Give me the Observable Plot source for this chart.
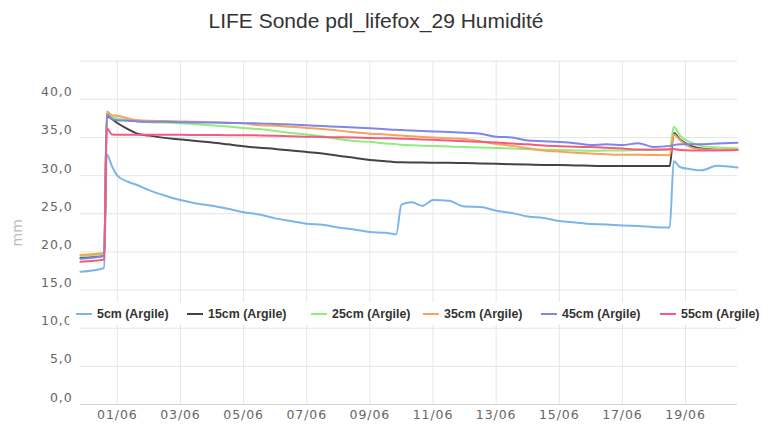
<!DOCTYPE html>
<html>
<head>
<meta charset="utf-8">
<script src="https://cdn.jsdelivr.net/npm/d3@7"></script>
<script src="https://cdn.jsdelivr.net/npm/@observablehq/plot@0.6"></script>
<style>
  body { margin: 0; background: #fff; }
  #wrap { position: relative; width: 768px; height: 425px; overflow: hidden; background: #fff; }
  #wrap svg { position: absolute; left: 0; top: 0; }
  #title { position: absolute; left: 0; width: 752px; top: 9px; line-height: 21px; text-align: center;
           font: 21px "Liberation Sans", Arial, sans-serif; color: #333; white-space: nowrap; }
  #legend { position: absolute; left: 69px; top: 302px; width: 699px; height: 22px; background: #fff; }
  .item { position: absolute; top: 5px; height: 16px; line-height: 16px; white-space: nowrap;
          font: bold 12.4px "Liberation Sans", Arial, sans-serif; color: #333; }
  .item i { display: inline-block; width: 16px; height: 2px; vertical-align: middle; margin-right: 5px; position: relative; top: -1px; }
  svg [aria-label="y-axis tick label"], svg [aria-label="x-axis tick label"] {
    font-family: "DejaVu Sans", sans-serif; font-size: 12.5px; letter-spacing: 0.9px; fill: #666; }
  svg [aria-label="y-axis label"] { font-family: "DejaVu Sans", sans-serif; font-size: 14px; fill: #bbb; }
</style>
</head>
<body>
<div id="wrap">
  <div id="title"></div>
  <div id="legend"></div>
</div>
<script>
const titleText = "LIFE Sonde pdl_lifefox_29 Humidité";
const yLabel = "mm";
const series = ["5cm (Argile)", "15cm (Argile)", "25cm (Argile)", "35cm (Argile)", "45cm (Argile)", "55cm (Argile)"];
const colors = ["#7cb5ec", "#434348", "#90ed7d", "#f7a35c", "#8085e9", "#f15c80"];

const times = [
  "2021-05-30T20:00", "2021-05-31T14:00", "2021-05-31T16:00", "2021-05-31T20:00",
  "2021-06-01T00:00", "2021-06-01T08:00", "2021-06-01T16:00", "2021-06-02T00:00", "2021-06-02T12:00",
  "2021-06-03T00:00", "2021-06-03T12:00", "2021-06-04T00:00", "2021-06-04T12:00",
  "2021-06-05T00:00", "2021-06-05T12:00", "2021-06-06T00:00", "2021-06-06T12:00",
  "2021-06-07T00:00", "2021-06-07T12:00", "2021-06-08T00:00", "2021-06-08T12:00",
  "2021-06-09T00:00", "2021-06-09T12:00", "2021-06-09T20:00", "2021-06-10T00:00",
  "2021-06-10T08:00", "2021-06-10T16:00", "2021-06-11T00:00", "2021-06-11T12:00",
  "2021-06-12T00:00", "2021-06-12T12:00", "2021-06-13T00:00", "2021-06-13T12:00",
  "2021-06-14T00:00", "2021-06-14T12:00", "2021-06-15T00:00", "2021-06-15T12:00",
  "2021-06-16T00:00", "2021-06-16T12:00", "2021-06-17T00:00", "2021-06-17T12:00",
  "2021-06-18T00:00", "2021-06-18T12:00", "2021-06-18T15:00", "2021-06-18T20:00",
  "2021-06-19T04:00", "2021-06-19T12:00", "2021-06-20T00:00", "2021-06-20T15:30"
];

const v5 = [17.4, 17.9, 32.8, 31.2, 30.0, 29.2, 28.7, 28.1, 27.4, 26.8, 26.35, 26.05, 25.65, 25.2, 24.9, 24.4, 24.05,
  23.7, 23.55, 23.2, 22.95, 22.6, 22.5, 22.3, 26.2, 26.5, 26.05, 26.8, 26.7, 25.95, 25.9, 25.4, 25.1, 24.65, 24.45,
  24.05, 23.85, 23.65, 23.6, 23.45, 23.4, 23.25, 23.2, 31.9, 31.1, 30.85, 30.7, 31.3, 31.07];
const v15 = [19.2, 19.5, 37.8, 37.4, 36.9, 36.1, 35.45, 35.25, 34.95, 34.75, 34.55, 34.35, 34.1, 33.85, 33.65, 33.5, 33.3,
  33.1, 32.9, 32.6, 32.35, 32.05, 31.9, 31.77, 31.75, 31.73, 31.72, 31.7, 31.68, 31.65, 31.6, 31.55, 31.5, 31.45, 31.4,
  31.38, 31.33, 31.3, 31.25, 31.25, 31.25, 31.25, 31.25, 35.6, 34.7, 33.9, 33.55, 33.4, 33.35];
const v25 = [19.5, 19.7, 38.1, 37.7, 37.5, 37.3, 37.1, 37.0, 36.95, 36.85, 36.75, 36.6, 36.45, 36.25, 36.1, 35.85, 35.6,
  35.4, 35.15, 34.8, 34.55, 34.43, 34.2, 34.13, 34.05, 33.98, 33.93, 33.88, 33.82, 33.75, 33.7, 33.62, 33.56, 33.47, 33.4,
  33.36, 33.3, 33.25, 33.3, 33.28, 33.35, 33.38, 33.38, 36.4, 35.2, 34.35, 33.9, 33.7, 33.6];
const v35 = [19.6, 19.85, 38.4, 37.9, 37.85, 37.5, 37.25, 37.18, 37.15, 37.1, 37.05, 37.0, 36.95, 36.85, 36.6, 36.55, 36.4,
  36.25, 36.1, 35.9, 35.7, 35.5, 35.4, 35.3, 35.25, 35.15, 35.05, 35.0, 34.9, 34.8, 34.5, 34.15, 33.9, 33.6, 33.3,
  33.15, 33.0, 32.9, 32.8, 32.73, 32.73, 32.7, 32.68, 35.4, 34.6, 33.7, 33.45, 33.38, 33.38];
const v45 = [19.1, 19.5, 38.0, 37.4, 37.25, 37.2, 37.1, 37.05, 37.05, 37.0, 36.97, 36.95, 36.9, 36.88, 36.85, 36.78, 36.7,
  36.6, 36.5, 36.4, 36.3, 36.2, 36.08, 36.0, 35.98, 35.92, 35.85, 35.8, 35.72, 35.62, 35.5, 35.1, 35.0, 34.6, 34.5,
  34.4, 34.25, 34.0, 34.1, 34.0, 34.26, 33.75, 33.9, 34.0, 34.1, 34.13, 34.13, 34.2, 34.3];
const v55 = [18.7, 19.0, 36.2, 35.4, 35.35, 35.35, 35.35, 35.35, 35.35, 35.35, 35.33, 35.32, 35.3, 35.3, 35.27, 35.23, 35.15,
  35.1, 35.06, 35.03, 35.0, 34.93, 34.9, 34.87, 34.85, 34.8, 34.75, 34.7, 34.6, 34.52, 34.43, 34.33, 34.2, 34.1, 33.95,
  33.85, 33.78, 33.75, 33.65, 33.55, 33.42, 33.4, 33.45, 33.5, 33.35, 33.3, 33.3, 33.3, 33.35];

const yTicks = [0, 5, 10, 15, 20, 25, 30, 35, 40];
const yGrid = [5, 10, 15, 20, 25, 30, 35, 40, 45];
const xTickDates = ["2021-06-01", "2021-06-03", "2021-06-05", "2021-06-07", "2021-06-09",
                    "2021-06-11", "2021-06-13", "2021-06-15", "2021-06-17", "2021-06-19"];

// layout: legend item left positions (px)
const legendLefts = [76, 187, 311, 423, 541, 660];

const valueArrays = [v5, v15, v25, v35, v45, v55];
const rows = [];
valueArrays.forEach((arr, k) => arr.forEach((v, i) => rows.push({t: new Date(times[i] + "Z"), v, s: series[k]})));
const xTicks = xTickDates.map(d => new Date(d + "T00:00Z"));

const chart = Plot.plot({
  width: 768,
  height: 425,
  marginLeft: 80,
  marginRight: 31,
  marginTop: 60.7,
  marginBottom: 21,
  x: {type: "utc", domain: d3.extent(rows, d => d.t)},
  y: {domain: [0, 45]},
  color: {domain: series, range: colors},
  marks: [
    Plot.ruleY(yGrid, {stroke: "#e6e6e6", strokeWidth: 1}),
    Plot.ruleX(xTicks, {stroke: "#e6e6e6", strokeWidth: 1}),
    Plot.ruleY([0], {stroke: "#d6d6d6", strokeWidth: 1}),
    Plot.axisY(yTicks, {tickSize: 0, tickPadding: 8, dy: -7,
      tickFormat: d => d.toFixed(1).replace(".", ","),
      label: yLabel, labelAnchor: "center", labelArrow: "none", labelOffset: 68}),
    Plot.axisX(xTicks, {tickSize: 0, tickPadding: 6, tickFormat: d3.utcFormat("%d/%m"), label: null}),
    Plot.lineY(rows, {x: "t", y: "v", z: "s", stroke: "s", strokeWidth: 2, strokeLinejoin: "round", curve: "monotone-x"})
  ]
});

const wrap = document.getElementById("wrap");
wrap.insertBefore(chart, wrap.firstChild);
document.getElementById("title").textContent = titleText;

const legend = document.getElementById("legend");
series.forEach((name, k) => {
  const it = document.createElement("div");
  it.className = "item";
  it.style.left = (legendLefts[k] - 69) + "px";
  const sw = document.createElement("i");
  sw.style.background = colors[k];
  it.appendChild(sw);
  it.appendChild(document.createTextNode(name));
  legend.appendChild(it);
});
</script>
</body>
</html>
